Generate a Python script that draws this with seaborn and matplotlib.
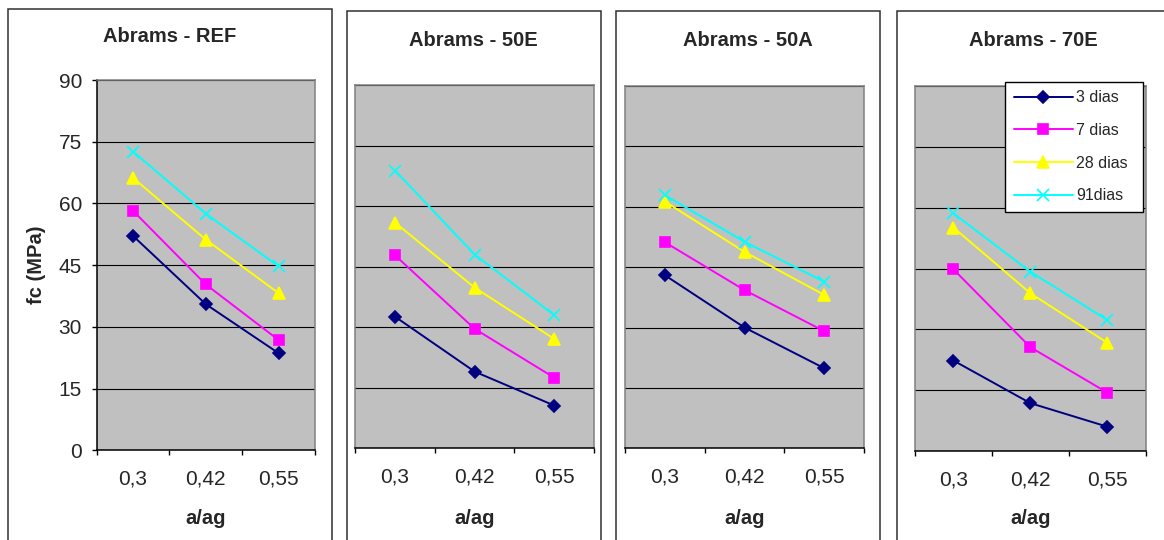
import matplotlib
matplotlib.use("Agg")
import matplotlib.pyplot as plt
import seaborn as sns
import pandas as pd
from matplotlib.patches import Rectangle
from matplotlib.ticker import FixedLocator

# ---------------------------------------------------------------------------
# Data
# ---------------------------------------------------------------------------
A_AG = ["0,3", "0,42", "0,55"]
IDADES = ["3 dias", "7 dias", "28 dias", "91dias"]
PAINEIS = ["REF", "50E", "50A", "70E"]

# one row per age (3, 7, 28, 91 dias), one column per a/ag
FC_REF = [[52.1, 35.5, 23.6], [58.2, 40.3, 26.8], [66.2, 51.2, 38.2], [72.6, 57.5, 44.7]]
FC_50E = [[32.6, 19.0, 10.6], [47.8, 29.6, 17.5], [55.9, 39.8, 27.1], [68.8, 48.0, 33.0]]
FC_50A = [[43.0, 30.0, 19.9], [51.2, 39.3, 29.1], [61.3, 48.8, 38.1], [62.9, 51.3, 41.4]]
FC_70E = [[22.3, 11.8, 6.0], [44.8, 25.6, 14.4], [55.1, 38.9, 26.7], [58.6, 44.2, 32.3]]

Y_TICKS = [0, 15, 30, 45, 60, 75, 90]

# ---------------------------------------------------------------------------
# Style
# ---------------------------------------------------------------------------
W, H, DPI = 1164, 540, 100
CORES = {"3 dias": "#000080", "7 dias": "#FF00FF", "28 dias": "#FFFF00", "91dias": "#00FFFF"}
MARCAS = {"3 dias": "D", "7 dias": "s", "28 dias": "^", "91dias": "x"}
TAMANHOS = {"3 dias": 6.5, "7 dias": 7.5, "28 dias": 8.5, "91dias": 8.5}

# plot areas (left, top, right, bottom) and panel frames in pixels
AX_BOX = [(96.7, 80, 315, 450.3), (355.3, 85, 594, 448.3),
          (625, 86, 864, 448.3), (915, 86, 1145.7, 451)]
FRAMES = [(8.3, 9, 331.7), (346.7, 10.7, 601), (616, 10.7, 880), (896.7, 10.7, 1171)]
TITLE_Y = [37, 40, 40, 40]

sns.set_style("white")
plt.rcParams["font.family"] = ["Liberation Sans", "DejaVu Sans"]


def fig_box(l, t, r, b):
    return [l / W, 1 - b / H, (r - l) / W, (b - t) / H]


rows = []
for painel, series in zip(PAINEIS, [FC_REF, FC_50E, FC_50A, FC_70E]):
    for idade, vals in zip(IDADES, series):
        for x, v in zip(A_AG, vals):
            rows.append({"painel": painel, "idade": idade, "a/ag": x, "fc": v})
df = pd.DataFrame(rows)

fig = plt.figure(figsize=(W / DPI, H / DPI), dpi=DPI)

for i, painel in enumerate(PAINEIS):
    fl, ft, fr = FRAMES[i]
    fig.add_artist(Rectangle((fl / W, -0.1), (fr - fl) / W, 1 - ft / H + 0.1,
                             transform=fig.transFigure, fill=False,
                             edgecolor="#303030", linewidth=1.1))
    fig.text((fl + fr) / 2 / W, 1 - TITLE_Y[i] / H, f"Abrams - {painel}",
             ha="center", va="center", fontsize=14.5, fontweight="bold")

    l, t, r, b = AX_BOX[i]
    ax = fig.add_axes(fig_box(l, t, r, b))
    ax.set_facecolor("#C0C0C0")

    sub = df[df["painel"] == painel]
    for idade in IDADES:
        s = sub[sub["idade"] == idade]
        sns.lineplot(data=s, x="a/ag", y="fc", ax=ax, color=CORES[idade],
                     marker=MARCAS[idade], markersize=TAMANHOS[idade],
                     markeredgecolor=CORES[idade], markeredgewidth=1.2,
                     linewidth=1.4, errorbar=None, sort=False,
                     label=idade, legend=False)

    ax.set_xlim(-0.5, 2.5)
    ax.set_ylim(0, 90)
    ax.set_yticks(Y_TICKS)
    ax.xaxis.set_minor_locator(FixedLocator([-0.5, 0.5, 1.5, 2.5]))
    ax.tick_params(axis="x", which="major", bottom=True, length=0, pad=14, labelsize=15)
    ax.tick_params(axis="x", which="minor", bottom=True, length=3.6, width=1,
                   direction="out", color="black")

    ax.set_axisbelow(True)
    ax.yaxis.grid(True, color="black", linewidth=0.8)
    ax.xaxis.grid(False)

    for side in ["top", "right", "left"]:
        ax.spines[side].set_color("#808080")
        ax.spines[side].set_linewidth(1.1)
    ax.spines["bottom"].set_color("black")
    ax.spines["bottom"].set_linewidth(1.1)

    ax.set_xlabel("a/ag", fontsize=14.5, fontweight="bold", va="center")
    ax.xaxis.set_label_coords(0.5, (b - 518) / (b - t))

    if i == 0:
        ax.spines["left"].set_color("black")
        ax.tick_params(axis="y", left=True, length=3.6, width=1, direction="out",
                       color="black", pad=7, labelsize=15)
        ax.set_ylabel("fc (MPa)", fontsize=14.5, fontweight="bold", va="center")
        ax.yaxis.set_label_coords((37 - l) / (r - l), 0.5)
    else:
        ax.tick_params(axis="y", left=False, labelleft=False)
        ax.set_ylabel("")

    if i == 3:
        handles, labels = ax.get_legend_handles_labels()
        leg = ax.legend(handles, labels, loc="upper left",
                        bbox_to_anchor=(1005 / W, 1 - 81.7 / H, 138 / W, 0),
                        bbox_transform=fig.transFigure, mode="expand",
                        fontsize=11.5, frameon=True, fancybox=False,
                        edgecolor="black", framealpha=1, borderaxespad=0,
                        labelspacing=1.1, borderpad=0.55, handlelength=3.7,
                        handletextpad=0.2)
        leg.get_frame().set_linewidth(1.0)

fig.savefig("out.png", dpi=DPI)
